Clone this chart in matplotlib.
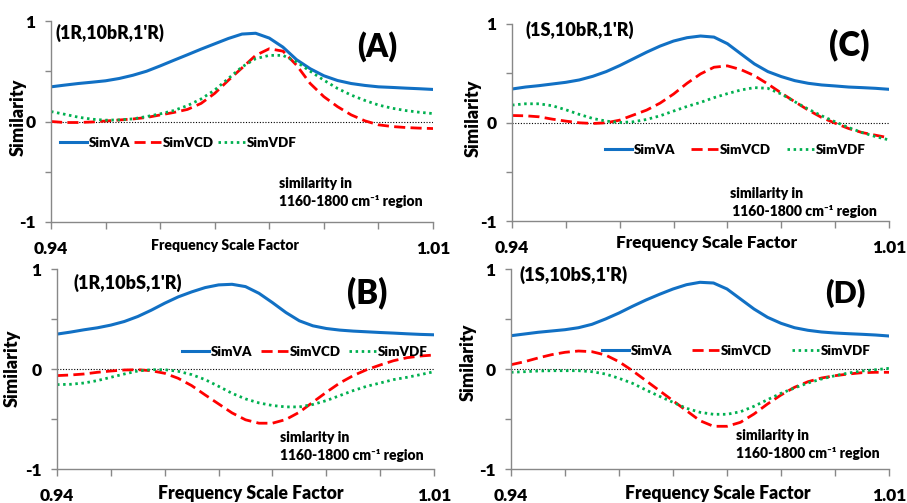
import numpy as np
import matplotlib
matplotlib.use("Agg")
import matplotlib.pyplot as plt

plt.rcParams['font.family'] = ['Lato', 'DejaVu Sans']
plt.rcParams['font.weight'] = 'heavy'

FW = 'heavy'

# Frequency scale factor (x)
x = [0.9400, 0.9425, 0.9450, 0.9475, 0.9500, 0.9525, 0.9550, 0.9575, 0.9600, 0.9625,
     0.9650, 0.9675, 0.9700, 0.9725, 0.9750, 0.9775, 0.9800, 0.9825, 0.9850, 0.9875,
     0.9900, 0.9925, 0.9950, 0.9975, 1.0000, 1.0025, 1.0050, 1.0075, 1.0100]

# Panel A (1R,10bR,1'R)
A_va  = [0.345, 0.362, 0.378, 0.391, 0.405, 0.428, 0.460, 0.500, 0.553, 0.609,
         0.664, 0.720, 0.773, 0.826, 0.870, 0.878, 0.830, 0.740, 0.615, 0.525,
         0.455, 0.408, 0.378, 0.359, 0.345, 0.339, 0.332, 0.326, 0.319]
A_vcd = [0.000, -0.010, -0.010, -0.005, 0.005, 0.015, 0.025, 0.040, 0.065, 0.090,
         0.120, 0.180, 0.280, 0.410, 0.533, 0.658, 0.724, 0.700, 0.560, 0.378,
         0.247, 0.148, 0.066, 0.007, -0.033, -0.050, -0.060, -0.066, -0.070]
A_vdf = [0.099, 0.072, 0.043, 0.023, 0.013, 0.016, 0.026, 0.049, 0.076, 0.109,
         0.158, 0.224, 0.313, 0.428, 0.543, 0.625, 0.658, 0.658, 0.592, 0.500,
         0.411, 0.329, 0.263, 0.210, 0.164, 0.132, 0.109, 0.092, 0.079]

# Panel C (1S,10bR,1'R)
C_va  = [0.340, 0.360, 0.374, 0.391, 0.408, 0.432, 0.469, 0.517, 0.578, 0.646,
         0.714, 0.776, 0.827, 0.861, 0.878, 0.867, 0.800, 0.697, 0.595, 0.517,
         0.466, 0.425, 0.398, 0.381, 0.371, 0.360, 0.354, 0.347, 0.337]
C_vcd = [0.071, 0.068, 0.058, 0.034, 0.014, -0.003, -0.010, -0.003, 0.024, 0.075,
         0.126, 0.197, 0.289, 0.398, 0.493, 0.561, 0.575, 0.537, 0.476, 0.391,
         0.299, 0.211, 0.126, 0.051, -0.007, -0.061, -0.102, -0.129, -0.156]
C_vdf = [0.177, 0.190, 0.190, 0.170, 0.129, 0.082, 0.041, 0.014, 0.000, 0.007,
         0.031, 0.068, 0.116, 0.163, 0.204, 0.252, 0.293, 0.330, 0.354, 0.347,
         0.289, 0.211, 0.136, 0.068, 0.007, -0.051, -0.102, -0.143, -0.177]

# Panel B (1R,10bS,1'R)
B_va  = [0.349, 0.369, 0.392, 0.412, 0.439, 0.475, 0.525, 0.588, 0.658, 0.721,
         0.771, 0.814, 0.841, 0.847, 0.824, 0.757, 0.664, 0.565, 0.482, 0.432,
         0.405, 0.389, 0.379, 0.372, 0.365, 0.359, 0.352, 0.346, 0.342]
B_vcd = [-0.066, -0.060, -0.050, -0.033, -0.020, -0.010, -0.007, -0.017, -0.043, -0.093,
         -0.166, -0.259, -0.349, -0.439, -0.508, -0.542, -0.542, -0.505, -0.432, -0.332,
         -0.233, -0.140, -0.066, -0.007, 0.040, 0.083, 0.113, 0.130, 0.140]
B_vdf = [-0.156, -0.153, -0.140, -0.116, -0.083, -0.050, -0.020, -0.007, -0.007, -0.023,
         -0.056, -0.106, -0.173, -0.243, -0.299, -0.339, -0.365, -0.379, -0.379, -0.355,
         -0.316, -0.266, -0.216, -0.173, -0.140, -0.106, -0.083, -0.056, -0.027]

# Panel D (1S,10bS,1'R)
D_va  = [0.333, 0.350, 0.367, 0.380, 0.393, 0.413, 0.447, 0.500, 0.560, 0.627,
         0.690, 0.747, 0.800, 0.843, 0.867, 0.860, 0.800, 0.700, 0.600, 0.517,
         0.457, 0.413, 0.387, 0.370, 0.360, 0.353, 0.347, 0.340, 0.330]
D_vcd = [0.043, 0.073, 0.110, 0.143, 0.167, 0.180, 0.173, 0.140, 0.073, -0.017,
         -0.117, -0.217, -0.317, -0.417, -0.517, -0.573, -0.573, -0.533, -0.450, -0.350,
         -0.260, -0.183, -0.127, -0.090, -0.067, -0.050, -0.037, -0.033, -0.033]
D_vdf = [-0.033, -0.027, -0.020, -0.017, -0.017, -0.017, -0.027, -0.050, -0.093, -0.143,
         -0.210, -0.273, -0.333, -0.393, -0.433, -0.453, -0.453, -0.427, -0.373, -0.307,
         -0.243, -0.190, -0.140, -0.100, -0.067, -0.040, -0.020, -0.007, 0.007]

series_names = ["SimVA", "SimVCD", "SimVDF"]
isomers = ["(1R,10bR,1'R)", "(1S,10bR,1'R)", "(1R,10bS,1'R)", "(1S,10bS,1'R)"]
letters = ["(A)", "(C)", "(B)", "(D)"]
note_line1 = ["similarity in", "similarity in", "simlarity in", "similarity in"]
note_line2 = ["1160-1800 cm\u207b\u00b9 region", " 1160-1800 cm\u207b\u00b9 region",
              "1160-1800 cm\u207b\u00b9 region", "1160-1800 cm\u207b\u00b9 region"]
xlabel = "Frequency Scale Factor"
ylabel = "Similarity"
xtick_labels = ["0.94", "1.01"]

data = [(A_va, A_vcd, A_vdf), (C_va, C_vcd, C_vdf),
        (B_va, B_vcd, B_vdf), (D_va, D_vcd, D_vdf)]

W, H = 907, 503
fig = plt.figure(figsize=(W / 100, H / 100), dpi=100)
renderer = fig.canvas.get_renderer()

def fx(px):
    return px / W

def fy(py):
    return 1 - py / H

def fit(t, target, dim='w'):
    ext = t.get_window_extent(renderer)
    cur = ext.width if dim == 'w' else ext.height
    t.set_fontsize(t.get_fontsize() * target / cur)

# layout in pixels
boxes = [(51, 21, 433, 222), (512, 24, 889, 221), (57, 269, 434, 469), (511, 269, 889, 469)]
cfg = [
    dict(iso=(55, 33), let=(377, 47), leg=(60, 297, 143), n1=(279, 183), n2=(279, 202),
         ylab=(18, 117), xl=(225, 246, 147)),
    dict(iso=(525, 30), let=(849, 45), leg=(605, 866, 150), n1=(730, 193), n2=(729, 211),
         ylab=(473, 118), xl=(707, 243, 181)),
    dict(iso=(73, 283), let=(367, 293), leg=(182, 428, 352), n1=(280, 437), n2=(280, 455),
         ylab=(12, 368), xl=(251, 493, 185)),
    dict(iso=(520, 275), let=(845, 293), leg=(602, 871, 351), n1=(736, 435), n2=(736, 454),
         ylab=(468, 362), xl=(718, 493, 185)),
]

blue, red, green = "#1170C4", "#FF0000", "#00B050"
spine_col = "#888888"

for i, (box, (va, vcd, vdf), c) in enumerate(zip(boxes, data, cfg)):
    l, t, r, b = box
    ax = fig.add_axes([l / W, (H - b) / H, (r - l) / W, (b - t) / H])
    ax.plot(x, va, color=blue, lw=2.2, label=series_names[0])
    ax.plot(x, vcd, color=red, lw=2.0, ls=(0, (4, 1.9)), label=series_names[1])
    ax.plot(x, vdf, color=green, lw=2.0, ls=(0, (0.9, 1.3)), label=series_names[2])
    ax.axhline(0, color='black', lw=0.8, ls=(0, (1, 1.5)), zorder=0)

    ax.set_xlim(0.94, 1.01)
    ax.set_ylim(-1, 1)
    ax.set_xticks(np.round(np.arange(0.94, 1.0101, 0.01), 2))
    ax.set_xticklabels([xtick_labels[0]] + [""] * 6 + [xtick_labels[1]])
    ax.set_yticks([-1, -0.5, 0, 0.5, 1])
    ax.set_yticklabels(["-1", "", "0", "", "1"])
    for s in ["top", "right"]:
        ax.spines[s].set_visible(False)
    for s in ["left", "bottom"]:
        ax.spines[s].set_color(spine_col)
        ax.spines[s].set_linewidth(1.0)
    ax.tick_params(axis='x', direction='out', length=5, width=1, color=spine_col,
                   labelsize=12.5, pad=9)
    ax.tick_params(axis='y', direction='out', length=4, width=1, color=spine_col,
                   labelsize=12.5, pad=7)
    for lab in ax.get_xticklabels() + ax.get_yticklabels():
        lab.set_fontweight(FW)
    ax.patch.set_visible(False)

    ti = fig.text(fx(c['iso'][0]), fy(c['iso'][1]), isomers[i], fontsize=13,
                  fontweight=FW, ha='left', va='center')
    fit(ti, 108)
    tl = fig.text(fx(c['let'][0]), fy(c['let'][1]), letters[i], fontsize=21,
                  fontweight=FW, ha='center', va='center')
    fit(tl, 40)
    t1 = fig.text(fx(c['n1'][0]), fy(c['n1'][1]), note_line1[i], fontsize=11,
                  fontweight=FW, ha='left', va='center')
    t2 = fig.text(fx(c['n2'][0]), fy(c['n2'][1]), note_line2[i], fontsize=11,
                  fontweight=FW, ha='left', va='center')
    fit(t2, 144 + (4 if i == 1 else 0))
    t1.set_fontsize(t2.get_fontsize())
    ty = fig.text(fx(c['ylab'][0]), fy(c['ylab'][1]), ylabel, fontsize=14,
                  fontweight=FW, rotation=90, ha='center', va='center')
    fit(ty, 77, 'h')
    tx = fig.text(fx(c['xl'][0]), fy(c['xl'][1]), xlabel, fontsize=13,
                  fontweight=FW, ha='center', va='center')
    fit(tx, c['xl'][2])

    # legend: font sized so "SimVCD" is ~51 px wide, spacing fitted to span
    probe = fig.text(0, 0, series_names[1], fontsize=11.5, fontweight=FW)
    fit(probe, 51)
    fs = probe.get_fontsize()
    probe.remove()
    x0, x1, ly = c['leg']
    anchor = ((x0 - l) / (r - l), (b - ly) / (b - t))
    kw = dict(loc='center left', bbox_to_anchor=anchor, ncol=3, frameon=False,
              prop={'size': fs, 'weight': FW}, handlelength=27 / (fs * 100 / 72),
              handletextpad=0.15, borderaxespad=0, borderpad=0)
    leg = ax.legend(columnspacing=0, **kw)
    w0 = leg.get_window_extent(renderer).width
    colsp = max(0.0, (x1 - x0 - w0) / (2 * fs * 100 / 72))
    leg.remove()
    ax.legend(columnspacing=colsp, **kw)

fig.savefig("out.png", dpi=100)
